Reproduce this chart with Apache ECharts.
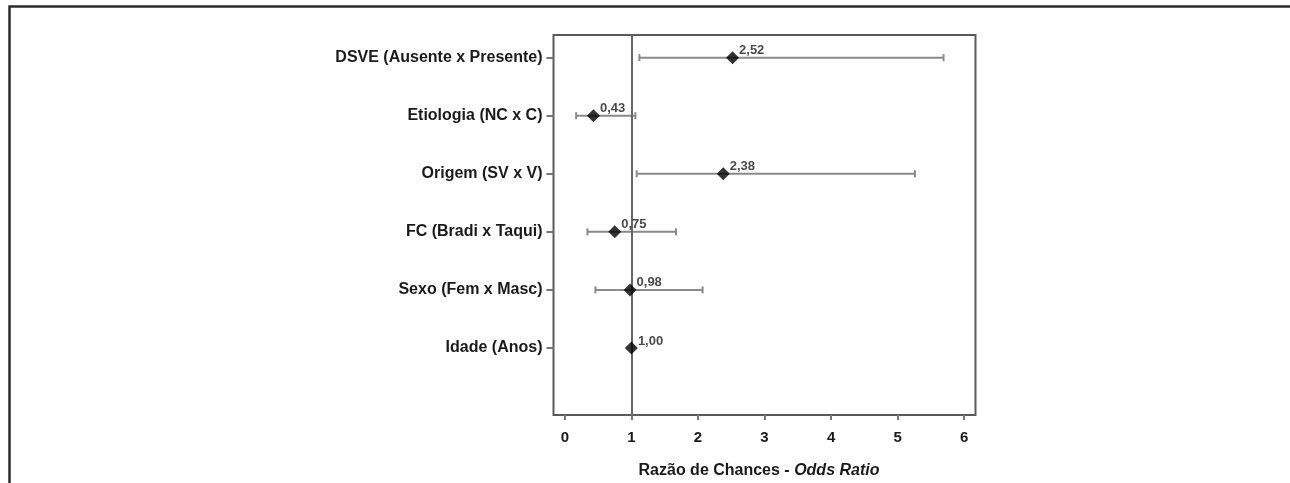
<!DOCTYPE html>
<html><head><meta charset="utf-8">
<script src="https://cdn.jsdelivr.net/npm/echarts@6/dist/echarts.min.js"></script>
<style>html,body{margin:0;padding:0;background:#fff}#c{width:1290px;height:483px}</style>
</head><body><div id="c"></div>
<script>
const categories = ['DSVE (Ausente x Presente)','Etiologia (NC x C)','Origem (SV x V)','FC (Bradi x Taqui)','Sexo (Fem x Masc)','Idade (Anos)'];
const oddsRatio = [2.52, 0.43, 2.38, 0.75, 0.98, 1.00];
const ciLow = [1.12, 0.17, 1.08, 0.34, 0.46, 1.00];
const ciHigh = [5.69, 1.06, 5.26, 1.67, 2.07, 1.00];
const oddsLabels = ['2,52','0,43','2,38','0,75','0,98','1,00'];
const xTicks = [0,1,2,3,4,5,6];

const n = categories.length;
const yPos = categories.map((c,i)=>n-i);
const errData = categories.map((c,i)=>[ciLow[i], ciHigh[i], yPos[i]]);
const ptData = categories.map((c,i)=>({value:[oddsRatio[i], yPos[i]], label:{formatter:oddsLabels[i]}}));

const chart = echarts.init(document.getElementById('c'), null, {renderer:'canvas'});
chart.setOption({
  animation:false,
  backgroundColor:'#fff',
  textStyle:{fontFamily:'Liberation Sans, Arial, sans-serif'},
  graphic:[
    {type:'polyline', shape:{points:[[9.5,483],[9.5,6.5],[1290,6.5]]}, style:{stroke:'#2b2b2b', lineWidth:2.5, fill:null}}
  ],
  grid:{left:553.5, top:35, width:422, height:380, show:true, borderColor:'#5a5a5a', borderWidth:2, backgroundColor:'transparent', containLabel:false, outerBoundsMode:'none'},
  xAxis:{type:'value', min:-0.17, max:6.17, interval:1,
    axisLine:{show:false, onZero:false},
    axisTick:{show:true, length:5, lineStyle:{color:'#777', width:2}, customValues:xTicks},
    axisLabel:{show:true, customValues:xTicks, color:'#1a1a1a', fontWeight:'bold', fontSize:15, margin:15, formatter:v=>String(v)},
    splitLine:{show:false},
    name:'{a|Razão de Chances - }{b|Odds Ratio}', nameLocation:'middle', nameGap:48,
    nameTextStyle:{rich:{a:{fontWeight:'bold', fontSize:16, color:'#1a1a1a'}, b:{fontWeight:'bold', fontStyle:'italic', fontSize:16, color:'#1a1a1a'}}, padding:[0,11,0,0]}
  },
  yAxis:{type:'value', min:-0.155, max:6.39,
    axisLine:{show:false, onZero:false},
    axisTick:{show:true, length:7, lineStyle:{color:'#777', width:2}, customValues:yPos},
    axisLabel:{show:true, customValues:yPos, color:'#1a1a1a', fontWeight:'bold', fontSize:16, margin:11,
      formatter:v=>{const i=n-Math.round(v); return categories[i]||'';}},
    splitLine:{show:false}
  },
  series:[
    {type:'custom', data:errData, z:2,
      renderItem:(params, api)=>{
        const lo = api.coord([api.value(0), api.value(2)]);
        const hi = api.coord([api.value(1), api.value(2)]);
        if (Math.abs(hi[0]-lo[0])<1) return null;
        const h=3.5, st={stroke:'#8a8a8a', lineWidth:2};
        return {type:'group', children:[
          {type:'line', shape:{x1:lo[0],y1:lo[1],x2:hi[0],y2:hi[1]}, style:st},
          {type:'line', shape:{x1:lo[0],y1:lo[1]-h,x2:lo[0],y2:lo[1]+h}, style:st},
          {type:'line', shape:{x1:hi[0],y1:hi[1]-h,x2:hi[0],y2:hi[1]+h}, style:st}
        ]};
      }
    },
    {type:'scatter', data:ptData, symbol:'diamond', symbolSize:[13,13], z:4,
      itemStyle:{color:'#000'},
      label:{show:true, position:'right', offset:[-5,-7], color:'#1a1a1a', fontWeight:'bold', fontSize:13},
      markLine:{silent:true, symbol:'none', label:{show:false}, lineStyle:{color:'#666', width:2, type:'solid'}, data:[{xAxis:1}], z:3}
    }
  ]
});
</script></body></html>
